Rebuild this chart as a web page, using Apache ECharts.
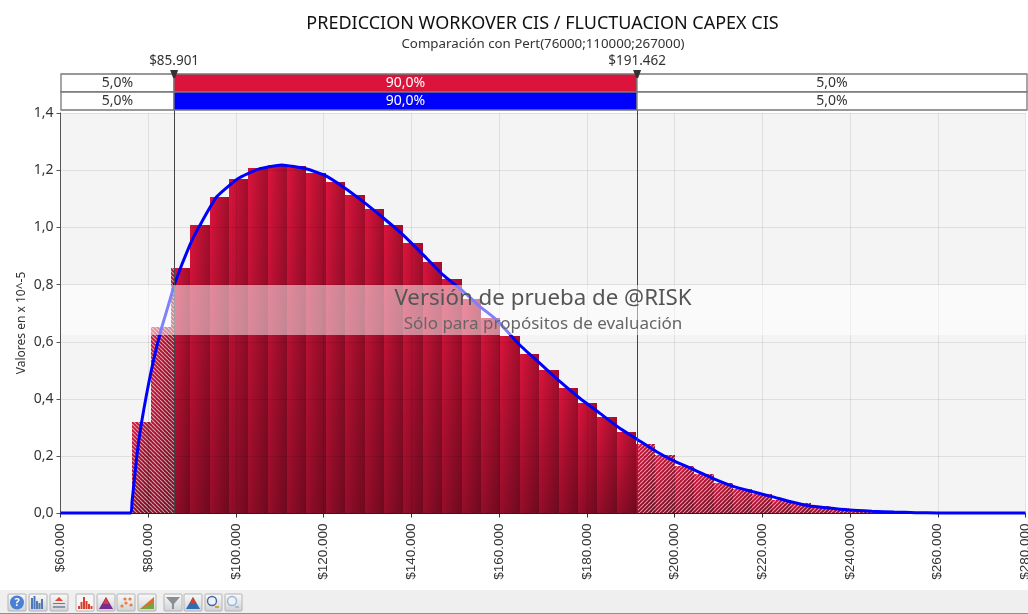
<!DOCTYPE html>
<html>
<head>
<meta charset="utf-8">
<style>html,body{margin:0;padding:0;background:#fff}#c{width:1028px;height:614px}</style>
<script src="https://cdn.jsdelivr.net/npm/echarts@6/dist/echarts.min.js"></script>
</head>
<body>
<div id="c"></div>
<script>
var titleText = 'PREDICCION WORKOVER CIS / FLUCTUACION CAPEX CIS';
var subtitleText = 'Comparación con Pert(76000;110000;267000)';
var yAxisName = 'Valores en x 10^-5';
var watermarkMain = 'Versión de prueba de @RISK';
var watermarkSub = 'Sólo para propósitos de evaluación';
var lowMarker = 85901;
var highMarker = 191462;
var markerLabels = ['$85.901', '$191.462'];
var rowStarts = [60000, 85901, 191462];
var rowEnds = [85901, 191462, 280228];
var rowLabels = ['5,0%', '90,0%', '5,0%'];
var binEdges = [76300,80720,85140,89560,93980,98400,102820,107240,111660,116080,120500,124920,129340,133760,138180,142600,147020,151440,155860,160280,164700,169120,173540,177960,182380,186800,191220,195640,200060,204480,208900,213320,217740,222160,226580,231000,235420,239840,244260,248680,253100,257520];
var binHeights = [0.319,0.651,0.859,1.008,1.107,1.171,1.207,1.218,1.215,1.19,1.158,1.114,1.064,1.008,0.947,0.880,0.82,0.75,0.684,0.62,0.557,0.50,0.439,0.385,0.336,0.285,0.242,0.205,0.167,0.137,0.106,0.085,0.067,0.047,0.035,0.027,0.018,0.013,0.008,0.005,0.002];
var curveX = [60000,70000,76000,76300,77400,78500,80700,82800,84500,86100,89500,91800,95600,100500,105000,110400,116000,120300,124800,129000,133600,138100,142700,147200,151500,155500,159400,164700,169300,173900,178400,183000,187500,191500,195900,200200,204600,209100,213500,217900,222200,226500,230800,235400,240000,245000,250000,255000,260000,270000,280000];
var curveY = [0.002,0.002,0.002,0.04,0.2,0.32,0.5,0.635,0.723,0.806,0.939,1.008,1.107,1.171,1.203,1.218,1.205,1.182,1.138,1.09,1.033,0.974,0.904,0.834,0.781,0.725,0.677,0.589,0.525,0.461,0.403,0.35,0.298,0.259,0.216,0.181,0.152,0.12,0.094,0.076,0.059,0.041,0.026,0.019,0.012,0.008,0.005,0.003,0.002,0.002,0.002];

var uiFont = '"Noto Sans", sans-serif';
var tickFont = '"Liberation Sans", Arial, sans-serif';

function hatch(dir) {
  var s = 4, cv = document.createElement('canvas');
  cv.width = s; cv.height = s;
  var g = cv.getContext('2d');
  g.strokeStyle = 'rgba(255,255,255,0.6)';
  g.lineWidth = 1.1;
  g.beginPath();
  for (var i = -s; i <= s; i += s) {
    if (dir > 0) { g.moveTo(i, s); g.lineTo(i + s, 0); }
    else { g.moveTo(i, 0); g.lineTo(i + s, s); }
  }
  g.stroke();
  return cv;
}
var hatchL = hatch(-1), hatchR = hatch(1);

function vGrad() {
  return new echarts.graphic.LinearGradient(0, 0, 0, 1, [
    {offset: 0, color: '#dc143c'},
    {offset: 1, color: '#960d2a'}
  ]);
}
function hGrad() {
  return new echarts.graphic.LinearGradient(0, 0, 1, 0, [
    {offset: 0, color: 'rgba(0,0,0,0)'},
    {offset: 1, color: 'rgba(0,0,0,0.28)'}
  ]);
}

var barData = binHeights.map(function (h, i) { return [binEdges[i], binEdges[i + 1], h]; });

function renderBar(params, api) {
  var a = api.value(0), b = api.value(1), h = api.value(2);
  var kids = [];
  function seg(from, to, pattern) {
    var p0 = api.coord([from, h]), p1 = api.coord([to, 0]);
    var x0 = Math.round(p0[0]), x1 = Math.round(p1[0]), y0 = Math.round(p0[1]), y1 = Math.round(p1[1]);
    var shape = {x: x0, y: y0, width: x1 - x0, height: y1 - y0};
    kids.push({type: 'rect', shape: shape, style: {fill: vGrad()}});
    kids.push({type: 'rect', shape: shape, style: {fill: hGrad()}});
    if (pattern) kids.push({type: 'rect', shape: shape, style: {fill: {image: pattern, repeat: 'repeat'}}});
  }
  var p = [a, b];
  [lowMarker, highMarker].forEach(function (m) { if (m > a && m < b) p.splice(1, 0, m); });
  for (var i = 0; i < p.length - 1; i++) {
    var mid = (p[i] + p[i + 1]) / 2;
    seg(p[i], p[i + 1], mid < lowMarker ? hatchL : (mid > highMarker ? hatchR : null));
  }
  return {type: 'group', children: kids};
}

var rowData = [];
[0, 1].forEach(function (row) {
  rowStarts.forEach(function (s, i) { rowData.push([s, rowEnds[i], row, rowLabels[i], i]); });
});
function renderRow(params, api) {
  var row = api.value(2), seg = api.value(4);
  var p0 = api.coord([api.value(0), row]), p1 = api.coord([api.value(1), row + 1]);
  var fill = seg === 1 ? (row === 0 ? '#dc143c' : '#0000ff') : '#ffffff';
  return {
    type: 'rect',
    shape: {x: Math.round(p0[0]), y: p0[1], width: Math.round(p1[0]) - Math.round(p0[0]), height: p1[1] - p0[1]},
    style: {
      fill: fill, stroke: '#777777', lineWidth: 1.3,
      text: rowLabels[seg], fontFamily: uiFont, fontSize: 14,
      textFill: seg === 1 ? '#ffffff' : '#333333'
    }
  };
}

var markerData = [[lowMarker, 0], [highMarker, 1]];
function renderMarkerTop(params, api) {
  var p = api.coord([api.value(0), 0]);
  return {type: 'group', children: [
    {type: 'polygon', shape: {points: [[p[0] - 4, p[1] - 4], [p[0] + 4, p[1] - 4], [p[0] + 1, p[1] + 4], [p[0] - 1, p[1] + 4]]}, style: {fill: '#333333'}},
    {type: 'text', x: p[0], y: p[1] - 13, style: {text: markerLabels[api.value(1)], fontFamily: uiFont, fontSize: 13.5, fill: '#333333', textAlign: 'center', textVerticalAlign: 'middle'}}
  ]};
}
function renderMarkerLine(params, api) {
  var a = api.coord([api.value(0), 1.4]), b = api.coord([api.value(0), 0]);
  var x = Math.round(a[0]) + 0.5;
  return {type: 'line', shape: {x1: x, y1: a[1] - 3, x2: x, y2: b[1]}, style: {stroke: '#444444', lineWidth: 1}};
}

function btn(x, w, kids, pressed) {
  var out = [{type: 'rect', z: 50, shape: {x: x, y: 594, width: w, height: 17, r: 1},
    style: {fill: pressed ? '#f6f6f6' : new echarts.graphic.LinearGradient(0, 0, 0, 1, [{offset: 0, color: '#fafafa'}, {offset: 1, color: '#cfd2d6'}]), stroke: '#b4b4b4', lineWidth: 1}}];
  return out.concat(kids.map(function (k) { k.z = 51; return k; }));
}
function bars(x, list, color) {
  return list.map(function (h, i) { return {type: 'rect', shape: {x: x + i * 2.5, y: 609 - h, width: 2, height: h}, style: {fill: color}}; });
}
function tri(x, color, w) {
  return {type: 'polygon', shape: {points: [[x, 609], [x + w / 2, 597], [x + w, 609]]}, style: {fill: color}};
}
var toolbar = [
  {type: 'rect', z: 49, shape: {x: 0, y: 590, width: 1028, height: 23}, style: {fill: '#efefef'}},
  {type: 'rect', z: 49, shape: {x: 0, y: 613, width: 1028, height: 1}, style: {fill: '#8f8f8f'}}
];
toolbar = toolbar.concat(
  btn(8, 18, [{type: 'circle', shape: {cx: 17, cy: 602.5, r: 7}, style: {fill: '#4a7fd6'}}, {type: 'text', x: 17, y: 602.5, style: {text: '?', fill: '#fff', fontSize: 11, fontWeight: 'bold', fontFamily: uiFont, textAlign: 'center', textVerticalAlign: 'middle'}}]),
  btn(29, 18, bars(31, [11, 13, 8, 6, 10], '#4f78b8')),
  btn(50, 18, [{type: 'polygon', shape: {points: [[59, 597], [63, 601], [55, 601]]}, style: {fill: '#e2472f'}}, {type: 'rect', shape: {x: 53, y: 603, width: 12, height: 1}, style: {fill: '#777'}}, {type: 'rect', shape: {x: 53, y: 606, width: 12, height: 2}, style: {fill: '#8a97a8'}}]),
  btn(76, 18, bars(78, [3, 7, 12, 8, 5, 3], '#d8402c'), true),
  btn(97, 18, [tri(99, '#7b2a8f', 14), {type: 'polygon', shape: {points: [[103, 604], [106, 597], [109, 604]]}, style: {fill: '#d8402c'}}]),
  btn(117, 18, [{type: 'circle', shape: {cx: 122, cy: 606, r: 1.6}, style: {fill: '#e8803c'}}, {type: 'circle', shape: {cx: 126, cy: 603, r: 1.6}, style: {fill: '#e8803c'}}, {type: 'circle', shape: {cx: 130, cy: 599, r: 1.6}, style: {fill: '#e8803c'}}, {type: 'circle', shape: {cx: 125, cy: 599, r: 1.6}, style: {fill: '#e8803c'}}, {type: 'circle', shape: {cx: 131, cy: 605, r: 1.6}, style: {fill: '#e8803c'}}]),
  btn(138, 18, [{type: 'polygon', shape: {points: [[140, 609], [154, 597], [154, 609]]}, style: {fill: '#d8702c'}}, {type: 'polygon', shape: {points: [[140, 609], [154, 603], [154, 609]]}, style: {fill: '#6fa83c'}}]),
  btn(164, 18, [{type: 'polygon', shape: {points: [[166, 597], [180, 597], [174, 604], [174, 609], [172, 609], [172, 604]]}, style: {fill: '#8a8f96'}}]),
  btn(184, 18, [tri(186, '#2f6db0', 14), {type: 'polygon', shape: {points: [[190, 603], [193, 597], [196, 603]]}, style: {fill: '#d8402c'}}]),
  btn(205, 17, [{type: 'circle', shape: {cx: 212, cy: 601, r: 4.5}, style: {fill: '#eaf2fb', stroke: '#49659a', lineWidth: 1.4}}, {type: 'rect', shape: {x: 215, y: 606, width: 4, height: 2}, style: {fill: '#c8a83c'}}]),
  btn(225, 17, [{type: 'circle', shape: {cx: 232, cy: 601, r: 4.5}, style: {fill: '#eaf2fb', stroke: '#9db3d0', lineWidth: 1.4}}, {type: 'rect', shape: {x: 235, y: 606, width: 4, height: 2}, style: {fill: '#a9bdd6'}}])
);

var chart = echarts.init(document.getElementById('c'), null, {renderer: 'canvas'});
chart.setOption({
  animation: false,
  backgroundColor: '#ffffff',
  title: [
    {text: titleText, left: 537.5, top: 10, textAlign: 'center', textStyle: {fontFamily: uiFont, fontSize: 18, fontWeight: 'normal', color: '#111111'}},
    {text: subtitleText, left: 538, top: 33, textAlign: 'center', textStyle: {fontFamily: uiFont, fontSize: 13.3, fontWeight: 'normal', color: '#333333'}}
  ],
  grid: [
    {left: 60.5, top: 113, width: 965, height: 400.5, show: true, backgroundColor: '#f4f4f4', borderWidth: 0, outerBoundsMode: 'none'},
    {left: 60.5, top: 74, width: 966, height: 36, show: false, outerBoundsMode: 'none'}
  ],
  xAxis: [
    {type: 'value', gridIndex: 0, min: 60000, max: 280000, interval: 20000, z: 5,
      axisLine: {show: true, onZero: false, lineStyle: {color: '#222222', width: 1}},
      axisTick: {show: true, length: 4, lineStyle: {color: '#333333'}},
      splitLine: {show: true, lineStyle: {color: 'rgba(0,0,0,0.085)', width: 1}},
      axisLabel: {rotate: 90, margin: 10, fontFamily: tickFont, fontSize: 13.5, color: '#333333',
        formatter: function (v) { return '$' + (v / 1000) + '.000'; }}},
    {type: 'value', gridIndex: 1, min: 60000, max: 280228, show: false}
  ],
  yAxis: [
    {type: 'value', gridIndex: 0, min: 0, max: 1.4, interval: 0.2, z: 5,
      axisLine: {show: true, lineStyle: {color: '#555555', width: 1}},
      axisTick: {show: true, length: 4, lineStyle: {color: '#555555'}},
      splitLine: {show: true, lineStyle: {color: 'rgba(0,0,0,0.085)', width: 1}},
      axisLabel: {margin: 7, fontFamily: uiFont, fontSize: 14, color: '#333333',
        formatter: function (v) { return v.toFixed(1).replace('.', ','); }}},
    {type: 'value', gridIndex: 1, min: 0, max: 2, inverse: true, show: false}
  ],
  series: [
    {type: 'custom', name: 'Histograma', xAxisIndex: 0, yAxisIndex: 0, z: 2, clip: false, encode: {x: [0, 1], y: 2}, data: barData, renderItem: renderBar},
    {type: 'custom', name: 'Marcadores', xAxisIndex: 0, yAxisIndex: 0, z: 7, clip: false, encode: {x: 0}, data: markerData, renderItem: renderMarkerLine},
    {type: 'line', name: 'Pert', xAxisIndex: 0, yAxisIndex: 0, z: 6, clip: true, showSymbol: false, smooth: 0.15,
      lineStyle: {color: '#0000ff', width: 3}, data: curveX.map(function (x, i) { return [x, curveY[i]]; })},
    {type: 'custom', name: 'Filas', xAxisIndex: 1, yAxisIndex: 1, z: 8, clip: false, encode: {x: [0, 1]}, data: rowData, renderItem: renderRow},
    {type: 'custom', name: 'Marcas', xAxisIndex: 1, yAxisIndex: 1, z: 9, clip: false, encode: {x: 0}, data: markerData, renderItem: renderMarkerTop}
  ],
  graphic: {elements: [
    {type: 'rect', z: 100, shape: {x: 61, y: 285, width: 966, height: 50}, style: {fill: 'rgba(255,255,255,0.5)'}},
    {type: 'text', z: 101, x: 543, y: 298.5, style: {text: watermarkMain, fontFamily: uiFont, fontSize: 22.3, fill: '#555555', textAlign: 'center', textVerticalAlign: 'middle'}},
    {type: 'text', z: 101, x: 543, y: 324, style: {text: watermarkSub, fontFamily: uiFont, fontSize: 17, fill: '#666666', textAlign: 'center', textVerticalAlign: 'middle'}},
    {type: 'text', z: 10, x: 22, y: 323, rotation: Math.PI / 2, style: {text: yAxisName, fontFamily: uiFont, fontSize: 12, fill: '#333333', textAlign: 'center', textVerticalAlign: 'middle'}}
  ].concat(toolbar)}
});
</script>
</body>
</html>
